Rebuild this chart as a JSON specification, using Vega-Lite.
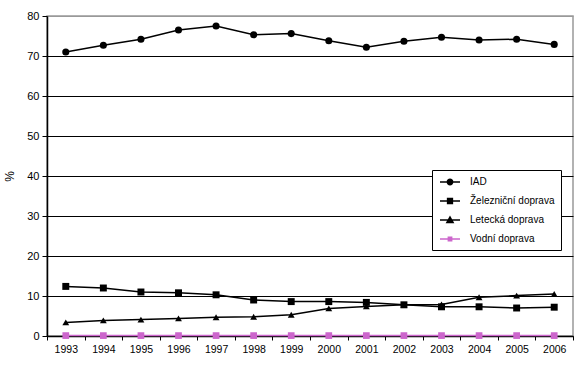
{
  "$schema": "https://vega.github.io/schema/vega-lite/v6.json",
  "width": 526,
  "height": 320,
  "autosize": "none",
  "padding": {"left": 47, "top": 16, "right": 9, "bottom": 29},
  "background": "white",
  "config": {
    "font": "Liberation Sans",
    "view": {"stroke": "#999999", "strokeWidth": 1.5},
    "axis": {"labelFont": "Liberation Sans", "titleFont": "Liberation Sans", "labelColor": "black", "titleColor": "black"}
  },
  "datasets": {
    "d": [
      {"year": "1993", "series": "IAD", "value": 71.0},
      {"year": "1994", "series": "IAD", "value": 72.7},
      {"year": "1995", "series": "IAD", "value": 74.2},
      {"year": "1996", "series": "IAD", "value": 76.5},
      {"year": "1997", "series": "IAD", "value": 77.5},
      {"year": "1998", "series": "IAD", "value": 75.3},
      {"year": "1999", "series": "IAD", "value": 75.6},
      {"year": "2000", "series": "IAD", "value": 73.8},
      {"year": "2001", "series": "IAD", "value": 72.2},
      {"year": "2002", "series": "IAD", "value": 73.7},
      {"year": "2003", "series": "IAD", "value": 74.7},
      {"year": "2004", "series": "IAD", "value": 74.0},
      {"year": "2005", "series": "IAD", "value": 74.2},
      {"year": "2006", "series": "IAD", "value": 72.9},
      {"year": "1993", "series": "Železniční doprava", "value": 12.4},
      {"year": "1994", "series": "Železniční doprava", "value": 12.0},
      {"year": "1995", "series": "Železniční doprava", "value": 11.0},
      {"year": "1996", "series": "Železniční doprava", "value": 10.8},
      {"year": "1997", "series": "Železniční doprava", "value": 10.3},
      {"year": "1998", "series": "Železniční doprava", "value": 9.0},
      {"year": "1999", "series": "Železniční doprava", "value": 8.6},
      {"year": "2000", "series": "Železniční doprava", "value": 8.6},
      {"year": "2001", "series": "Železniční doprava", "value": 8.4},
      {"year": "2002", "series": "Železniční doprava", "value": 7.8},
      {"year": "2003", "series": "Železniční doprava", "value": 7.3},
      {"year": "2004", "series": "Železniční doprava", "value": 7.3},
      {"year": "2005", "series": "Železniční doprava", "value": 7.0},
      {"year": "2006", "series": "Železniční doprava", "value": 7.2},
      {"year": "1993", "series": "Letecká doprava", "value": 3.4},
      {"year": "1994", "series": "Letecká doprava", "value": 3.9},
      {"year": "1995", "series": "Letecká doprava", "value": 4.1},
      {"year": "1996", "series": "Letecká doprava", "value": 4.4},
      {"year": "1997", "series": "Letecká doprava", "value": 4.7},
      {"year": "1998", "series": "Letecká doprava", "value": 4.8},
      {"year": "1999", "series": "Letecká doprava", "value": 5.3},
      {"year": "2000", "series": "Letecká doprava", "value": 6.9},
      {"year": "2001", "series": "Letecká doprava", "value": 7.4},
      {"year": "2002", "series": "Letecká doprava", "value": 7.8},
      {"year": "2003", "series": "Letecká doprava", "value": 7.9},
      {"year": "2004", "series": "Letecká doprava", "value": 9.7},
      {"year": "2005", "series": "Letecká doprava", "value": 10.1},
      {"year": "2006", "series": "Letecká doprava", "value": 10.5},
      {"year": "1993", "series": "Vodní doprava", "value": 0.1},
      {"year": "1994", "series": "Vodní doprava", "value": 0.1},
      {"year": "1995", "series": "Vodní doprava", "value": 0.1},
      {"year": "1996", "series": "Vodní doprava", "value": 0.1},
      {"year": "1997", "series": "Vodní doprava", "value": 0.1},
      {"year": "1998", "series": "Vodní doprava", "value": 0.1},
      {"year": "1999", "series": "Vodní doprava", "value": 0.1},
      {"year": "2000", "series": "Vodní doprava", "value": 0.1},
      {"year": "2001", "series": "Vodní doprava", "value": 0.1},
      {"year": "2002", "series": "Vodní doprava", "value": 0.1},
      {"year": "2003", "series": "Vodní doprava", "value": 0.1},
      {"year": "2004", "series": "Vodní doprava", "value": 0.1},
      {"year": "2005", "series": "Vodní doprava", "value": 0.1},
      {"year": "2006", "series": "Vodní doprava", "value": 0.1}
    ]
  },
  "data": {"name": "d"},
  "encoding": {
    "x": {
      "field": "year", "type": "ordinal",
      "scale": {"type": "band", "paddingInner": 0, "paddingOuter": 0},
      "axis": {"title": null, "labelAngle": 0, "tickBand": "extent", "grid": false, "domainColor": "black", "domainWidth": 1.5, "tickColor": "black", "tickSize": 4, "labelFontSize": 10.5, "labelPadding": 4}
    },
    "y": {
      "field": "value", "type": "quantitative",
      "scale": {"domain": [0, 80], "nice": false},
      "axis": {"title": "%", "titleFontSize": 12, "titleFontWeight": "normal", "titlePadding": 10, "titleAngle": -90, "values": [0,10,20,30,40,50,60,70,80],
        "gridColor": {"condition": {"test": "datum.value === 80", "value": "#999999"}, "value": "black"},
        "gridWidth": 1.2, "gridOpacity": 1, "domainColor": "black", "domainWidth": 1.5, "tickColor": "black", "tickSize": 5, "labelFontSize": 11, "labelPadding": 3}
    }
  },
  "layer": [
    {
      "mark": {"type": "line", "strokeWidth": 1.5},
      "encoding": {
        "color": {"field": "series", "type": "nominal", "legend": null,
          "scale": {"domain": ["IAD", "Železniční doprava", "Letecká doprava", "Vodní doprava"], "range": ["black", "black", "black", "#CC66CC"]}}
      }
    },
    {
      "mark": {"type": "point", "filled": true, "opacity": 1},
      "encoding": {
        "color": {"field": "series", "type": "nominal", "legend": null,
          "scale": {"domain": ["IAD", "Železniční doprava", "Letecká doprava", "Vodní doprava"], "range": ["black", "black", "black", "#CC66CC"]}},
        "shape": {"field": "series", "type": "nominal", "legend": null,
          "scale": {"domain": ["IAD", "Železniční doprava", "Letecká doprava", "Vodní doprava"], "range": ["circle", "square", "triangle-up", "square"]}},
        "size": {"field": "series", "type": "nominal", "legend": null,
          "scale": {"domain": ["IAD", "Železniční doprava", "Letecká doprava", "Vodní doprava"], "range": [50, 45, 50, 22]}}
      }
    },
    {
      "data": {"values": []},
      "mark": {"type": "point", "filled": false, "opacity": 1, "strokeWidth": 1.3},
      "encoding": {
        "color": {"field": "series", "type": "nominal",
          "scale": {"domain": ["IAD", "Železniční doprava", "Letecká doprava", "Vodní doprava"], "range": ["black", "black", "black", "#CC66CC"]},
          "legend": {"title": null, "orient": "none", "legendX": 385, "legendY": 154,
            "strokeColor": "black", "fillColor": "white", "padding": 6,
            "symbolSize": 100, "symbolStrokeWidth": 1.3, "symbolOpacity": 1,
            "labelFontSize": 10, "labelFont": "Liberation Sans", "labelColor": "black", "labelOffset": 14,
            "rowPadding": 7, "symbolOffset": 6}},
        "shape": {"field": "series", "type": "nominal",
          "scale": {"domain": ["IAD", "Železniční doprava", "Letecká doprava", "Vodní doprava"],
            "range": ["M-2,0H2M-0.55,0A0.55,0.55 0 1,0 0.55,0A0.55,0.55 0 1,0 -0.55,0ZM-0.3,0A0.3,0.3 0 1,0 0.3,0A0.3,0.3 0 1,0 -0.3,0ZM-0.08,0A0.08,0.08 0 1,0 0.08,0A0.08,0.08 0 1,0 -0.08,0Z",
                      "M-2,0H2M-0.5,-0.5H0.5V0.5H-0.5ZM-0.27,-0.27H0.27V0.27H-0.27ZM-0.05,-0.05H0.05V0.05H-0.05Z",
                      "M-2,0H2M-0.65,0.5L0,-0.65L0.65,0.5ZM-0.537,0.3H0.537M-0.424,0.1H0.424M-0.311,-0.1H0.311M-0.198,-0.3H0.198M-0.085,-0.5H0.085",
                      "M-2,0H2M-0.35,-0.35H0.35V0.35H-0.35ZM-0.12,-0.12H0.12V0.12H-0.12Z"]},
          "legend": {"title": null, "orient": "none", "legendX": 385, "legendY": 154,
            "strokeColor": "black", "fillColor": "white", "padding": 6,
            "symbolSize": 100, "symbolStrokeWidth": 1.3, "symbolOpacity": 1,
            "labelFontSize": 10, "labelFont": "Liberation Sans", "labelColor": "black", "labelOffset": 14,
            "rowPadding": 7, "symbolOffset": 6}
        }
      }
    }
  ],
  "resolve": {"scale": {"shape": "independent", "size": "independent", "color": "independent"}}
}
